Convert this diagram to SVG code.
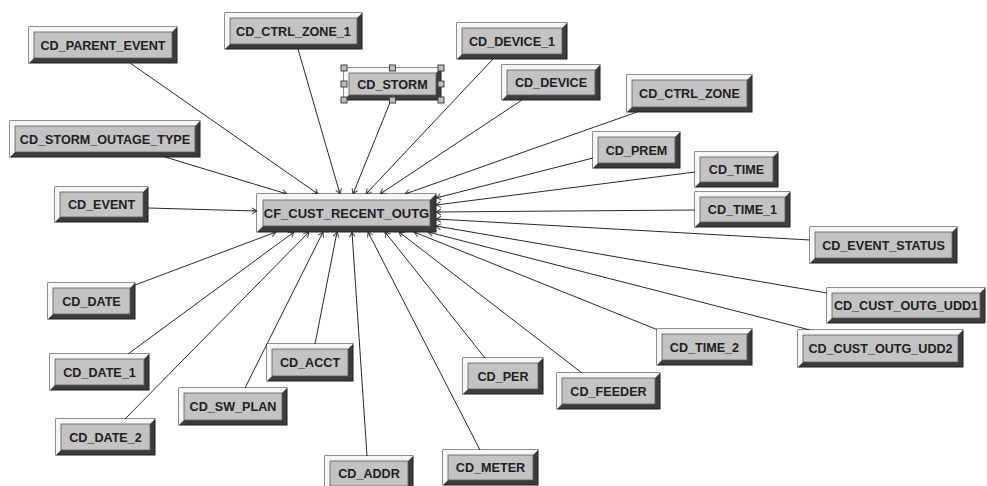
<svg xmlns="http://www.w3.org/2000/svg" width="987" height="486" viewBox="0 0 987 486">
<defs>
<style>
.bg{fill:#ffffff}
.edge{stroke:#2a2a2a;stroke-width:1;fill:none}
.base{fill:#3c3c3c;stroke:#1e1e1e;stroke-width:1}
.lite{fill:#f6f6f6}
.face{fill:#c3c3c3;stroke:#5a5a5a;stroke-width:0.8}
.lbl{font-family:"Liberation Sans",Arial,sans-serif;font-weight:bold;font-size:12.6px;fill:#202020;text-anchor:middle}
.big{font-size:13px}
.hdl{fill:#bdbdbd;stroke:#404040;stroke-width:1}
</style>
<marker id="ft" viewBox="-6 -4 7 8" refX="0" refY="0" markerWidth="7" markerHeight="8" markerUnits="userSpaceOnUse" orient="auto">
<path d="M-5,-3 L0,0 L-5,3 M-5,0 L0,0" fill="none" stroke="#444" stroke-width="1"/>
</marker>
</defs>
<rect class="bg" x="0" y="0" width="987" height="486"/>
<g id="connectors">
<line class="edge" marker-end="url(#ft)" x1="130" y1="63" x2="318" y2="194"/>
<line class="edge" marker-end="url(#ft)" x1="298" y1="49" x2="340" y2="194"/>
<line class="edge" marker-end="url(#ft)" x1="391" y1="100" x2="353" y2="194"/>
<line class="edge" marker-end="url(#ft)" x1="493" y1="59" x2="366" y2="194"/>
<line class="edge" marker-end="url(#ft)" x1="522" y1="100" x2="380" y2="194"/>
<line class="edge" marker-end="url(#ft)" x1="637" y1="112" x2="405" y2="194"/>
<line class="edge" marker-end="url(#ft)" x1="165" y1="157" x2="287" y2="194"/>
<line class="edge" marker-end="url(#ft)" x1="148" y1="208" x2="257" y2="211"/>
<line class="edge" marker-end="url(#ft)" x1="593" y1="158" x2="436" y2="198"/>
<line class="edge" marker-end="url(#ft)" x1="695" y1="172" x2="436" y2="205"/>
<line class="edge" marker-end="url(#ft)" x1="695" y1="210" x2="436" y2="212"/>
<line class="edge" marker-end="url(#ft)" x1="810" y1="240" x2="436" y2="219"/>
<line class="edge" marker-end="url(#ft)" x1="827" y1="293" x2="436" y2="226"/>
<line class="edge" marker-end="url(#ft)" x1="810" y1="330" x2="428" y2="232"/>
<line class="edge" marker-end="url(#ft)" x1="658" y1="330" x2="414" y2="232"/>
<line class="edge" marker-end="url(#ft)" x1="582" y1="373" x2="399" y2="232"/>
<line class="edge" marker-end="url(#ft)" x1="485" y1="358" x2="385" y2="232"/>
<line class="edge" marker-end="url(#ft)" x1="480" y1="450" x2="368" y2="232"/>
<line class="edge" marker-end="url(#ft)" x1="367" y1="456" x2="352" y2="232"/>
<line class="edge" marker-end="url(#ft)" x1="315" y1="344" x2="337" y2="232"/>
<line class="edge" marker-end="url(#ft)" x1="245" y1="388" x2="323" y2="232"/>
<line class="edge" marker-end="url(#ft)" x1="125" y1="419" x2="309" y2="232"/>
<line class="edge" marker-end="url(#ft)" x1="128" y1="354" x2="294" y2="232"/>
<line class="edge" marker-end="url(#ft)" x1="135" y1="285" x2="276" y2="232"/>
</g>
<g id="n_parent_event" transform="translate(29,27)"><rect class="base" width="148" height="36"/><polygon class="lite" points="0,0 148,0 143,5 5,5 5,31 0,36"/><rect class="face" x="5" y="5" width="138" height="26"/><text class="lbl" x="74" y="22.5">CD_PARENT_EVENT</text></g>
<g id="n_ctrl_zone_1" transform="translate(225,13)"><rect class="base" width="137" height="36"/><polygon class="lite" points="0,0 137,0 132,5 5,5 5,31 0,36"/><rect class="face" x="5" y="5" width="127" height="26"/><text class="lbl" x="68.5" y="22.5">CD_CTRL_ZONE_1</text></g>
<g id="n_storm" transform="translate(344,68)"><rect class="base" width="97" height="32"/><polygon class="lite" points="0,0 97,0 92,5 5,5 5,27 0,32"/><rect class="face" x="5" y="5" width="87" height="22"/><text class="lbl" x="48.5" y="20.5">CD_STORM</text>
<rect class="hdl" x="-3" y="-3" width="6" height="6"/><rect class="hdl" x="45.5" y="-3" width="6" height="6"/><rect class="hdl" x="94" y="-3" width="6" height="6"/><rect class="hdl" x="-3" y="13" width="6" height="6"/><rect class="hdl" x="94" y="13" width="6" height="6"/><rect class="hdl" x="-3" y="29" width="6" height="6"/><rect class="hdl" x="45.5" y="29" width="6" height="6"/><rect class="hdl" x="94" y="29" width="6" height="6"/></g>
<g id="n_device_1" transform="translate(457,23)"><rect class="base" width="110" height="36"/><polygon class="lite" points="0,0 110,0 105,5 5,5 5,31 0,36"/><rect class="face" x="5" y="5" width="100" height="26"/><text class="lbl" x="55" y="22.5">CD_DEVICE_1</text></g>
<g id="n_device" transform="translate(502,65)"><rect class="base" width="98" height="35"/><polygon class="lite" points="0,0 98,0 93,5 5,5 5,30 0,35"/><rect class="face" x="5" y="5" width="88" height="25"/><text class="lbl" x="49" y="22">CD_DEVICE</text></g>
<g id="n_ctrl_zone" transform="translate(627,75)"><rect class="base" width="125" height="37"/><polygon class="lite" points="0,0 125,0 120,5 5,5 5,32 0,37"/><rect class="face" x="5" y="5" width="115" height="27"/><text class="lbl" x="62.5" y="23">CD_CTRL_ZONE</text></g>
<g id="n_storm_outage_type" transform="translate(10,121)"><rect class="base" width="190" height="36"/><polygon class="lite" points="0,0 190,0 185,5 5,5 5,31 0,36"/><rect class="face" x="5" y="5" width="180" height="26"/><text class="lbl" x="95" y="22.5">CD_STORM_OUTAGE_TYPE</text></g>
<g id="n_event" transform="translate(55,187)"><rect class="base" width="93" height="35"/><polygon class="lite" points="0,0 93,0 88,5 5,5 5,30 0,35"/><rect class="face" x="5" y="5" width="83" height="25"/><text class="lbl" x="46.5" y="22">CD_EVENT</text></g>
<g id="n_cf_cust_recent_outg" transform="translate(257,194)"><rect class="base" width="179" height="38"/><polygon class="lite" points="0,0 179,0 173,6 6,6 6,32 0,38"/><rect class="face" x="6" y="6" width="167" height="26"/><text class="lbl big" x="89.5" y="24">CF_CUST_RECENT_OUTG</text></g>
<g id="n_prem" transform="translate(593,132)"><rect class="base" width="87" height="36"/><polygon class="lite" points="0,0 87,0 82,5 5,5 5,31 0,36"/><rect class="face" x="5" y="5" width="77" height="26"/><text class="lbl" x="43.5" y="22.5">CD_PREM</text></g>
<g id="n_time" transform="translate(695,152)"><rect class="base" width="83" height="35"/><polygon class="lite" points="0,0 83,0 78,5 5,5 5,30 0,35"/><rect class="face" x="5" y="5" width="73" height="25"/><text class="lbl" x="41.5" y="22">CD_TIME</text></g>
<g id="n_time_1" transform="translate(695,192)"><rect class="base" width="95" height="35"/><polygon class="lite" points="0,0 95,0 90,5 5,5 5,30 0,35"/><rect class="face" x="5" y="5" width="85" height="25"/><text class="lbl" x="47.5" y="22">CD_TIME_1</text></g>
<g id="n_event_status" transform="translate(810,227)"><rect class="base" width="147" height="36"/><polygon class="lite" points="0,0 147,0 142,5 5,5 5,31 0,36"/><rect class="face" x="5" y="5" width="137" height="26"/><text class="lbl" x="73.5" y="22.5">CD_EVENT_STATUS</text></g>
<g id="n_cust_outg_udd1" transform="translate(827,288)"><rect class="base" width="158" height="35"/><polygon class="lite" points="0,0 158,0 153,5 5,5 5,30 0,35"/><rect class="face" x="5" y="5" width="148" height="25"/><text class="lbl" x="79" y="22">CD_CUST_OUTG_UDD1</text></g>
<g id="n_cust_outg_udd2" transform="translate(798,330)"><rect class="base" width="165" height="37"/><polygon class="lite" points="0,0 165,0 160,5 5,5 5,32 0,37"/><rect class="face" x="5" y="5" width="155" height="27"/><text class="lbl" x="82.5" y="23">CD_CUST_OUTG_UDD2</text></g>
<g id="n_time_2" transform="translate(657,329)"><rect class="base" width="95" height="36"/><polygon class="lite" points="0,0 95,0 90,5 5,5 5,31 0,36"/><rect class="face" x="5" y="5" width="85" height="26"/><text class="lbl" x="47.5" y="22.5">CD_TIME_2</text></g>
<g id="n_feeder" transform="translate(557,373)"><rect class="base" width="103" height="36"/><polygon class="lite" points="0,0 103,0 98,5 5,5 5,31 0,36"/><rect class="face" x="5" y="5" width="93" height="26"/><text class="lbl" x="51.5" y="22.5">CD_FEEDER</text></g>
<g id="n_per" transform="translate(463,358)"><rect class="base" width="80" height="36"/><polygon class="lite" points="0,0 80,0 75,5 5,5 5,31 0,36"/><rect class="face" x="5" y="5" width="70" height="26"/><text class="lbl" x="40" y="22.5">CD_PER</text></g>
<g id="n_meter" transform="translate(443,450)"><rect class="base" width="95" height="35"/><polygon class="lite" points="0,0 95,0 90,5 5,5 5,30 0,35"/><rect class="face" x="5" y="5" width="85" height="25"/><text class="lbl" x="47.5" y="22">CD_METER</text></g>
<g id="n_addr" transform="translate(325,456)"><rect class="base" width="88" height="35"/><polygon class="lite" points="0,0 88,0 83,5 5,5 5,30 0,35"/><rect class="face" x="5" y="5" width="78" height="25"/><text class="lbl" x="44" y="22">CD_ADDR</text></g>
<g id="n_acct" transform="translate(267,344)"><rect class="base" width="86" height="37"/><polygon class="lite" points="0,0 86,0 81,5 5,5 5,32 0,37"/><rect class="face" x="5" y="5" width="76" height="27"/><text class="lbl" x="43" y="23">CD_ACCT</text></g>
<g id="n_sw_plan" transform="translate(179,388)"><rect class="base" width="108" height="37"/><polygon class="lite" points="0,0 108,0 103,5 5,5 5,32 0,37"/><rect class="face" x="5" y="5" width="98" height="27"/><text class="lbl" x="54" y="23">CD_SW_PLAN</text></g>
<g id="n_date" transform="translate(48,283)"><rect class="base" width="87" height="36"/><polygon class="lite" points="0,0 87,0 82,5 5,5 5,31 0,36"/><rect class="face" x="5" y="5" width="77" height="26"/><text class="lbl" x="43.5" y="22.5">CD_DATE</text></g>
<g id="n_date_1" transform="translate(50,354)"><rect class="base" width="99" height="36"/><polygon class="lite" points="0,0 99,0 94,5 5,5 5,31 0,36"/><rect class="face" x="5" y="5" width="89" height="26"/><text class="lbl" x="49.5" y="22.5">CD_DATE_1</text></g>
<g id="n_date_2" transform="translate(56,419)"><rect class="base" width="99" height="36"/><polygon class="lite" points="0,0 99,0 94,5 5,5 5,31 0,36"/><rect class="face" x="5" y="5" width="89" height="26"/><text class="lbl" x="49.5" y="22.5">CD_DATE_2</text></g>
</svg>
